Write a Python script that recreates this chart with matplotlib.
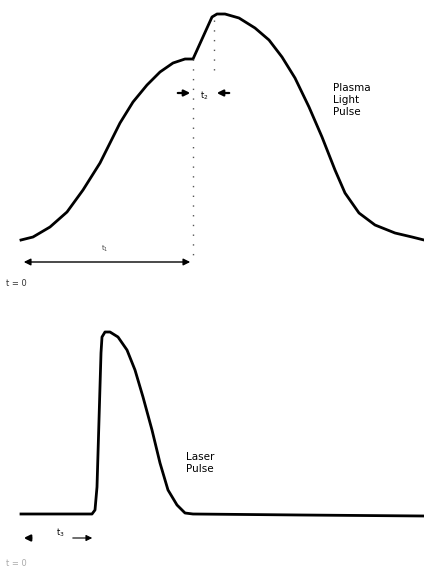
import numpy as np
import matplotlib.pyplot as plt

# traced outlines of the two pulses (pixel coordinates of the drawing)
plasma_x = [21, 33, 50, 67, 83, 100, 110, 120, 133, 147, 160, 173, 185, 193,
            212, 217, 225, 239, 255, 269, 282, 295, 309, 322, 335, 345, 359,
            375, 395, 412, 424]
plasma_y = [240, 237, 227, 212, 190, 163, 143, 123, 102, 85, 72, 63, 59, 59,
            17, 14, 14, 18, 28, 40, 57, 78, 107, 137, 170, 193, 213,
            225, 233, 237, 240]

laser_x = [21, 92, 95, 97, 99, 101, 102, 105, 110, 118, 127, 135, 143, 152,
           160, 168, 177, 185, 193, 300, 424]
laser_y = [514, 514, 510, 487, 420, 353, 337, 332, 332, 337, 350, 370, 397, 430,
           463, 490, 505, 513, 514, 515, 516]

t1_span = [21, 193]
t2_edges = [193, 214]
t3_span = [21, 95]

fig = plt.figure(figsize=(4.24, 5.70), dpi=100)
ax = fig.add_axes([0, 0, 1, 1])
ax.set_xlim(0, 424)
ax.set_ylim(570, 0)
ax.axis('off')

ax.plot(plasma_x, plasma_y, color='black', lw=2.0, solid_joinstyle='round')
ax.plot(laser_x, laser_y, color='black', lw=2.0, solid_joinstyle='round')

# dotted guides
ax.plot([t2_edges[0]] * 2, [59, 262], color='#555555', lw=1.0, ls=(0, (1, 6)))
ax.plot([t2_edges[1]] * 2, [20, 75], color='#555555', lw=1.0, ls=(0, (1, 6)))

arrow = dict(arrowstyle='-|>', color='black', lw=1.6, mutation_scale=9)

# t1: double arrow from t=0 to the break in the plasma curve
ax.annotate('', xy=(t1_span[0], 262), xytext=(t1_span[1], 262),
            arrowprops=dict(arrowstyle='<|-|>', color='black', lw=1.0, mutation_scale=10))
ax.text(105, 249, 't$_1$', fontsize=5, color='#444444', ha='center', va='center')

# t2: inward arrows
ax.annotate('', xy=(t2_edges[0], 93), xytext=(t2_edges[0] - 18, 93), arrowprops=arrow)
ax.annotate('', xy=(t2_edges[1], 93), xytext=(t2_edges[1] + 18, 93), arrowprops=arrow)
ax.text(204, 96, 't$_2$', fontsize=6, ha='center', va='center')

# t3: broken double arrow below the laser baseline
ax.annotate('', xy=(t3_span[0], 538), xytext=(t3_span[0] + 13, 538), arrowprops=arrow)
ax.annotate('', xy=(t3_span[1], 538), xytext=(t3_span[1] - 25, 538),
            arrowprops=dict(arrowstyle='-|>', color='black', lw=0.8, mutation_scale=9))
ax.text(60, 533, 't$_3$', fontsize=6, ha='center', va='center')

ax.text(6, 284, 't = 0', fontsize=6, color='#333333', ha='left', va='center')
ax.text(6, 563, 't = 0', fontsize=6, color='#aaaaaa', ha='left', va='center')

ax.text(333, 100, 'Plasma\nLight\nPulse', fontsize=7.5, ha='left', va='center',
        linespacing=1.25)
ax.text(186, 463, 'Laser\nPulse', fontsize=7.5, ha='left', va='center',
        linespacing=1.25)

fig.savefig('out.png', dpi=100)
